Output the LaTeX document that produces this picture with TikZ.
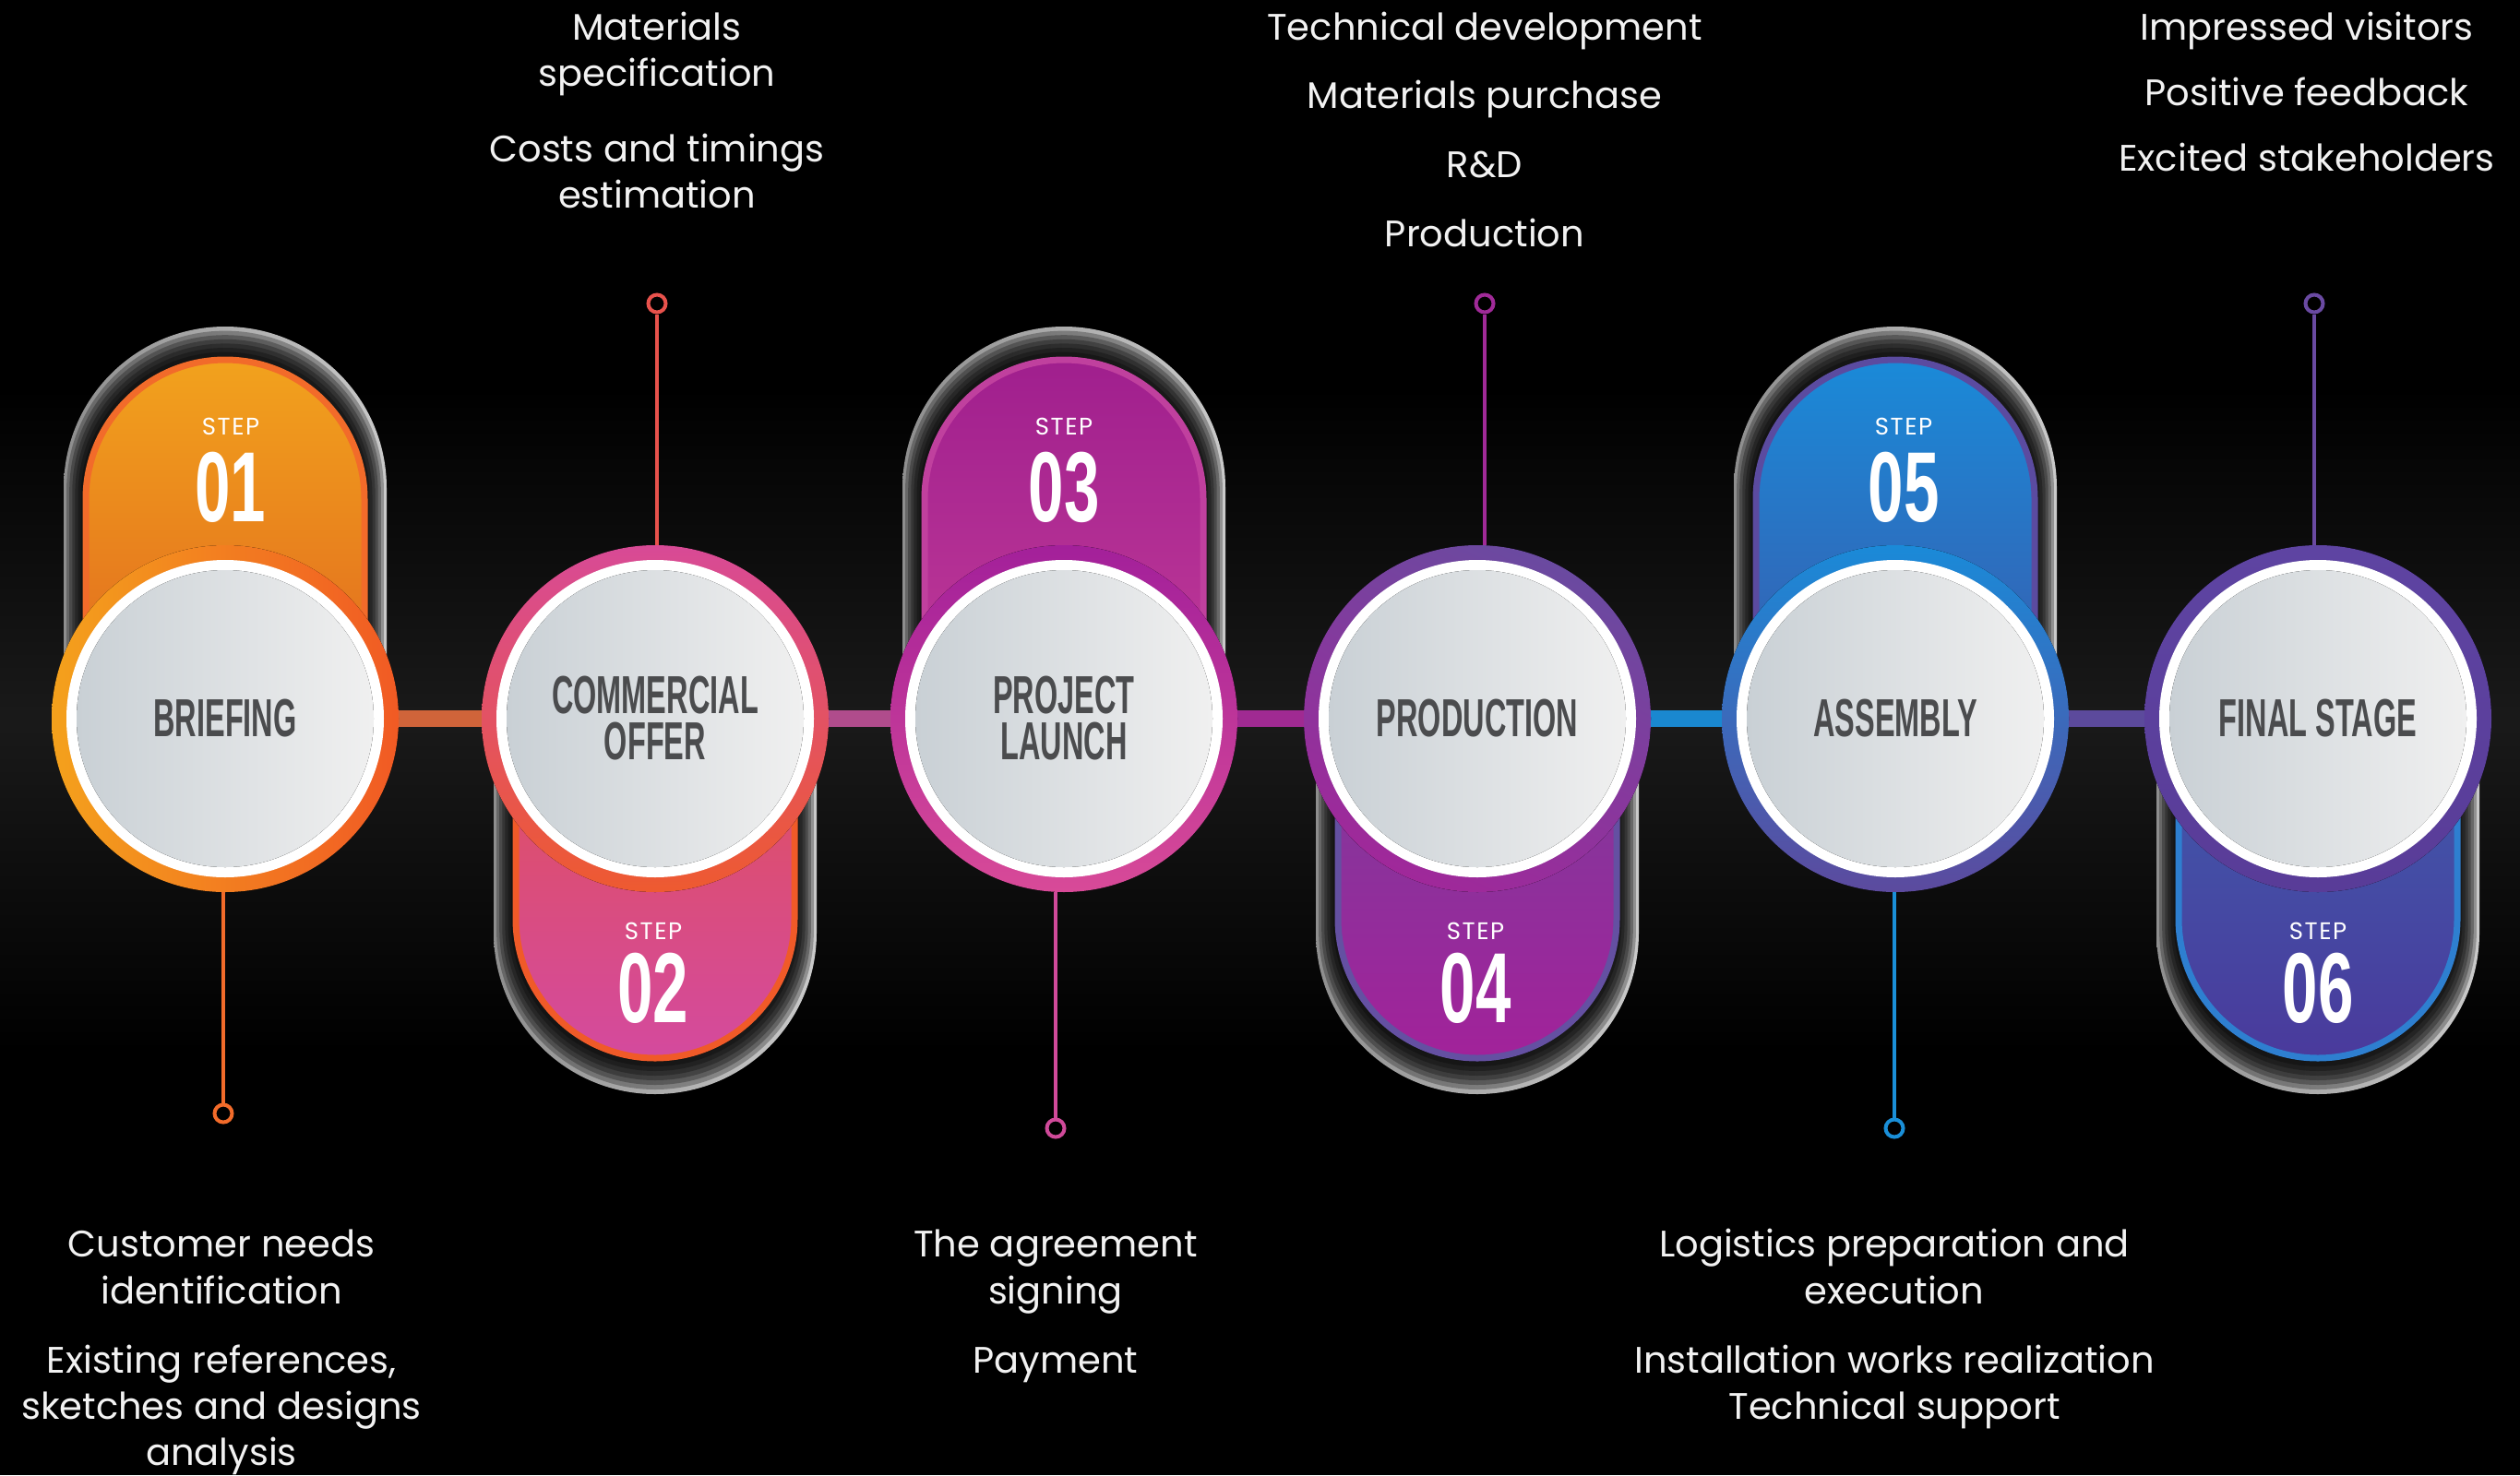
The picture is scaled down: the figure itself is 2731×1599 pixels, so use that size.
\documentclass[tikz,border=0pt]{standalone}
\usepackage{fontspec}
\setmainfont{Poppins}
\newfontfamily\bodyfont{Poppins}
\newfontfamily\stepfont{Poppins}[LetterSpace=6]
\newfontfamily\condfont{Liberation Sans}[FakeStretch=0.56]
\newfontfamily\numfont{Liberation Sans}[FakeStretch=0.64]
\newcommand\hx[1]{\definecolor{h#1}{HTML}{#1}}
\definecolor{txt}{HTML}{F2F2F2}
\definecolor{lbl}{HTML}{4B4C4E}
\definecolor{innerL}{HTML}{C9D0D5}
\definecolor{innerR}{HTML}{F0F0F0}
\definecolor{haloL}{HTML}{8E8E8E}
\definecolor{haloR}{HTML}{CACACA}
\definecolor{cA}{HTML}{F26B2A}
\definecolor{cB}{HTML}{E8524C}
\definecolor{cC}{HTML}{D04A9A}
\definecolor{cD}{HTML}{A02A98}
\definecolor{cE}{HTML}{1A8FD8}
\definecolor{cF}{HTML}{6A4AA2}
\hx{F2A21D}\hx{E0661E}\hx{F05A28}\hx{E0505A}\hx{D44A9E}\hx{C0409E}\hx{A01F8E}\hx{C23C98}
\hx{6450A2}\hx{7C3C9C}\hx{A2229A}\hx{5B4BA0}\hx{1A8AD8}\hx{3A5AAC}\hx{2E7FD0}\hx{3F5CAC}\hx{4A3A9C}
\hx{D0643A}\hx{B04C8C}\hx{A02A92}\hx{1A88D0}\hx{5C4A9C}
\hx{F4A11C}\hx{F15A24}\hx{D84A96}\hx{EE5A30}\hx{A3209A}\hx{D84A98}\hx{6A4AA0}\hx{A0289A}\hx{5C4A9E}\hx{5E44A2}\hx{593C98}
\newcommand\pillup[4]{\path[#4] ({#1-(#3)},779) -- ({#1-(#3)},{#2+(#3)}) arc[start angle=180,end angle=360,radius=#3] -- ({#1+(#3)},779) -- cycle;}
\newcommand\pilldown[4]{\path[#4] ({#1-(#3)},779) -- ({#1-(#3)},{#2-(#3)}) arc[start angle=180,end angle=0,radius=#3] -- ({#1+(#3)},779) -- cycle;}
\newcommand\haloup[1]{%
  \pillup{#1}{354}{175}{left color=haloL, right color=haloR}
  \foreach \k in {1,...,7}{\pgfmathsetmacro\hr{175-3.1*\k}\pgfmathsetmacro\ht{354+4.6*\k}\pillup{#1}{\ht}{\hr}{fill=black, fill opacity=0.28}}}
\newcommand\halodown[1]{%
  \pilldown{#1}{1186}{175}{left color=haloL, right color=haloR}
  \foreach \k in {1,...,7}{\pgfmathsetmacro\hr{175-3.1*\k}\pgfmathsetmacro\hb{1186-5*\k}\pilldown{#1}{\hb}{\hr}{fill=black, fill opacity=0.28}}}
\newcommand\ring[2]{%
  \fill[#2] (#1) circle[radius=188];
  \fill[white] (#1) circle[radius=172];
  \fill[left color=innerL, right color=innerR] (#1) circle[radius=161];}
\begin{document}
\begin{tikzpicture}[x=1pt,y=-1pt,
  body/.style={font=\bodyfont\fontsize{40}{50}\selectfont, text=txt, anchor=base, inner sep=0pt},
  steplbl/.style={font=\stepfont\fontsize{26}{30}\selectfont, text=white, anchor=base, inner sep=0pt},
  stepnum/.style={font=\numfont\bfseries\fontsize{108}{110}\selectfont, text=white, anchor=base, inner sep=0pt},
  circlbl/.style={circle, minimum size=376pt, inner sep=0pt, align=center,
    font=\condfont\bfseries\fontsize{58}{50}\selectfont, text=lbl},
  conn/.style={line width=4pt},
  endring/.style={circle, draw, line width=4pt, minimum size=19pt, inner sep=0pt, fill=black},
  bar/.style={line width=18pt}]
\useasboundingbox (0,0) rectangle (2731,1599);
\fill[black] (0,0) rectangle (2731,1599);
\fill[top color=black, bottom color=black, middle color=black!90!white] (0,420) rectangle (2731,1140);

\coordinate (p1) at (244,779);
\coordinate (p2) at (710,779);
\coordinate (p3) at (1153,779);
\coordinate (p4) at (1601,779);
\coordinate (p5) at (2054,779);
\coordinate (p6) at (2512,779);

% halo pills
\haloup{244}
\halodown{710}
\haloup{1153}
\halodown{1601}
\haloup{2054}
\halodown{2512}

% coloured pills
\pillup{244}{390}{151}{draw=cA, line width=7pt, top color=hF2A21D, bottom color=hE0661E}
\pilldown{710}{1147}{151}{draw=hF05A28, line width=7pt, top color=hE0505A, bottom color=hD44A9E}
\pillup{1153}{390}{151}{draw=hC0409E, line width=7pt, top color=hA01F8E, bottom color=hC23C98}
\pilldown{1601}{1147}{151}{draw=h6450A2, line width=7pt, top color=h7C3C9C, bottom color=hA2229A}
\pillup{2054}{390}{151}{draw=h5B4BA0, line width=7pt, top color=h1A8AD8, bottom color=h3A5AAC}
\pilldown{2512}{1147}{151}{draw=h2E7FD0, line width=7pt, top color=h3F5CAC, bottom color=h4A3A9C}

% bars
\draw[bar, hD0643A] (p1) -- (p2);
\draw[bar, hB04C8C] (p2) -- (p3);
\draw[bar, hA02A92] (p3) -- (p4);
\draw[bar, h1A88D0] (p4) -- (p5);
\draw[bar, h5C4A9C] (p5) -- (p6);

% rings
\ring{p1}{left color=hF4A11C, right color=hF15A24}
\ring{p2}{top color=hD84A96, bottom color=hEE5A30}
\ring{p3}{top color=hA3209A, bottom color=hD84A98}
\ring{p4}{top color=h6A4AA0, bottom color=hA0289A, shading angle=-25}
\ring{p5}{top color=h1A8AD8, bottom color=h5C4A9E}
\ring{p6}{top color=h5E44A2, bottom color=h593C98}

% circle labels
\node[circlbl] (n1) at (p1) {BRIEFING};
\node[circlbl] (n2) at (p2) {COMMERCIAL\\OFFER};
\node[circlbl] (n3) at (p3) {PROJECT\\LAUNCH};
\node[circlbl] (n4) at (p4) {PRODUCTION};
\node[circlbl] (n5) at (p5) {ASSEMBLY};
\node[circlbl] (n6) at (p6) {FINAL STAGE};

% step texts
\node[steplbl] (s1) at (250,471) {STEP};
\node[stepnum] (d1) at (250,565) {01};
\node[steplbl] (s2) at (708,1018) {STEP};
\node[stepnum] (d2) at (708,1108) {02};
\node[steplbl] (s3) at (1153,471) {STEP};
\node[stepnum] (d3) at (1153,565) {03};
\node[steplbl] (s4) at (1599,1018) {STEP};
\node[stepnum] (d4) at (1599,1108) {04};
\node[steplbl] (s5) at (2063,471) {STEP};
\node[stepnum] (d5) at (2063,565) {05};
\node[steplbl] (s6) at (2512,1018) {STEP};
\node[stepnum] (d6) at (2512,1108) {06};

% connector ends
\node[endring, draw=cA] (r1) at (242,1207) {};
\node[endring, draw=cB] (r2) at (712,329) {};
\node[endring, draw=cC] (r3) at (1144,1223) {};
\node[endring, draw=cD] (r4) at (1609,329) {};
\node[endring, draw=cE] (r5) at (2053,1223) {};
\node[endring, draw=cF] (r6) at (2508,329) {};
\draw[conn, cA] (n1.south -| r1) -- (r1);
\draw[conn, cB] (r2) -- (n2.north -| r2);
\draw[conn, cC] (n3.south -| r3) -- (r3);
\draw[conn, cD] (r4) -- (n4.north -| r4);
\draw[conn, cE] (n5.south -| r5) -- (r5);
\draw[conn, cF] (r6) -- (n6.north -| r6);

% texts
\node[body] (t2a) at (712,43) {Materials};
\node[body] (t2b) at (712,93) {specification};
\node[body] (t2c) at (712,175) {Costs and timings};
\node[body] (t2d) at (712,225) {estimation};

\node[body] (t4a) at (1609,43) {Technical development};
\node[body] (t4b) at (1609,117) {Materials purchase};
\node[body] (t4c) at (1609,192) {R\&D};
\node[body] (t4d) at (1609,267) {Production};

\node[body] (t6a) at (2500,43) {Impressed visitors};
\node[body] (t6b) at (2500,114) {Positive feedback};
\node[body] (t6c) at (2500,185) {Excited stakeholders};

\node[body] (t1a) at (240,1362) {Customer needs};
\node[body] (t1b) at (240,1413) {identification};
\node[body] (t1c) at (240,1488) {Existing references,};
\node[body] (t1d) at (240,1538) {sketches and designs};
\node[body] (t1e) at (240,1588) {analysis};

\node[body] (t3a) at (1144,1362) {The agreement};
\node[body] (t3b) at (1144,1413) {signing};
\node[body] (t3c) at (1144,1488) {Payment};

\node[body] (t5a) at (2053,1362) {Logistics preparation and};
\node[body] (t5b) at (2053,1413) {execution};
\node[body] (t5c) at (2053,1488) {Installation works realization};
\node[body] (t5d) at (2053,1538) {Technical support};
\end{tikzpicture}
\end{document}
